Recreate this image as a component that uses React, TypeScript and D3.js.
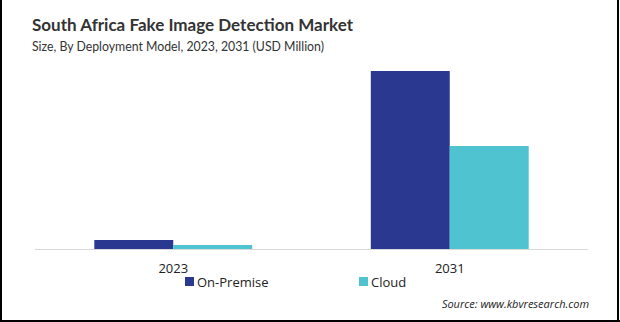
import React from "react";
import * as d3 from "d3";

const categories = ["2023", "2031"];
const seriesNames = ["On-Premise", "Cloud"];
const onPremise = [4.5, 89.0];
const cloud = [2.0, 51.5];
const seriesColors = ["#2B388F", "#4FC3CF"];

const W = 620;
const H = 322;
const baseline = 249;
const plotTop = 49;

export default function App() {
  const x0 = d3.scaleBand<string>().domain(categories).range([35, 588]).padding(0);
  const bw = x0.bandwidth();
  const x1 = d3.scaleBand<string>().domain(seriesNames).range([bw * 0.2145, bw * 0.7855]).padding(0);
  const y = d3.scaleLinear().domain([0, 100]).range([baseline, plotTop]);
  const values = [onPremise, cloud];

  return (
    <svg width={W} height={H} style={{ position: "absolute", left: 0, top: 0, background: "#fff" }}
      fontFamily="'Open Sans', 'Liberation Sans', sans-serif">
      <rect x={0} y={0} width={W} height={H} fill="#fff" />
      <text x={32} y={31} fontSize={17} fontWeight="bold" fill="#333"
        fontFamily="Lato, 'Open Sans', sans-serif" textLength={321} lengthAdjust="spacingAndGlyphs">South Africa Fake Image Detection  Market</text>
      <text x={32} y={51} fontSize={13} fill="#333"
        fontFamily="Lato, 'Open Sans', sans-serif" textLength={292} lengthAdjust="spacingAndGlyphs">Size, By Deployment Model,  2023, 2031 (USD Million)</text>

      {categories.map((c, i) => (
        <g key={c} transform={`translate(${x0(c)},0)`}>
          {seriesNames.map((s, j) => (
            <rect key={s} x={x1(s)} width={x1.bandwidth()} y={y(values[j][i])}
              height={baseline - y(values[j][i])} fill={seriesColors[j]} />
          ))}
          <text x={bw / 2} y={273} textAnchor="middle" fontSize={13} fill="#222">{c}</text>
        </g>
      ))}
      <line x1={35} x2={588} y1={baseline + 0.5} y2={baseline + 0.5} stroke="#d9d9d9" strokeWidth={1} />

      {seriesNames.map((s, j) => {
        const lx = [185, 359][j];
        return (
          <g key={s}>
            <rect x={lx} y={277} width={9} height={9} fill={seriesColors[j]} />
            <text x={lx + 12} y={287} fontSize={13} fill="#222">{s}</text>
          </g>
        );
      })}

      <text x={589} y={308} textAnchor="end" fontSize={11} fontStyle="italic" fill="#222">Source: www.kbvresearch.com</text>

      <line x1={1} x2={1} y1={0} y2={H} stroke="#000" strokeWidth={2} />
      <line x1={W - 2} x2={W - 2} y1={0} y2={H} stroke="#000" strokeWidth={2} />
      <line x1={0} x2={W} y1={H - 1} y2={H - 1} stroke="#000" strokeWidth={2} />
    </svg>
  );
}
